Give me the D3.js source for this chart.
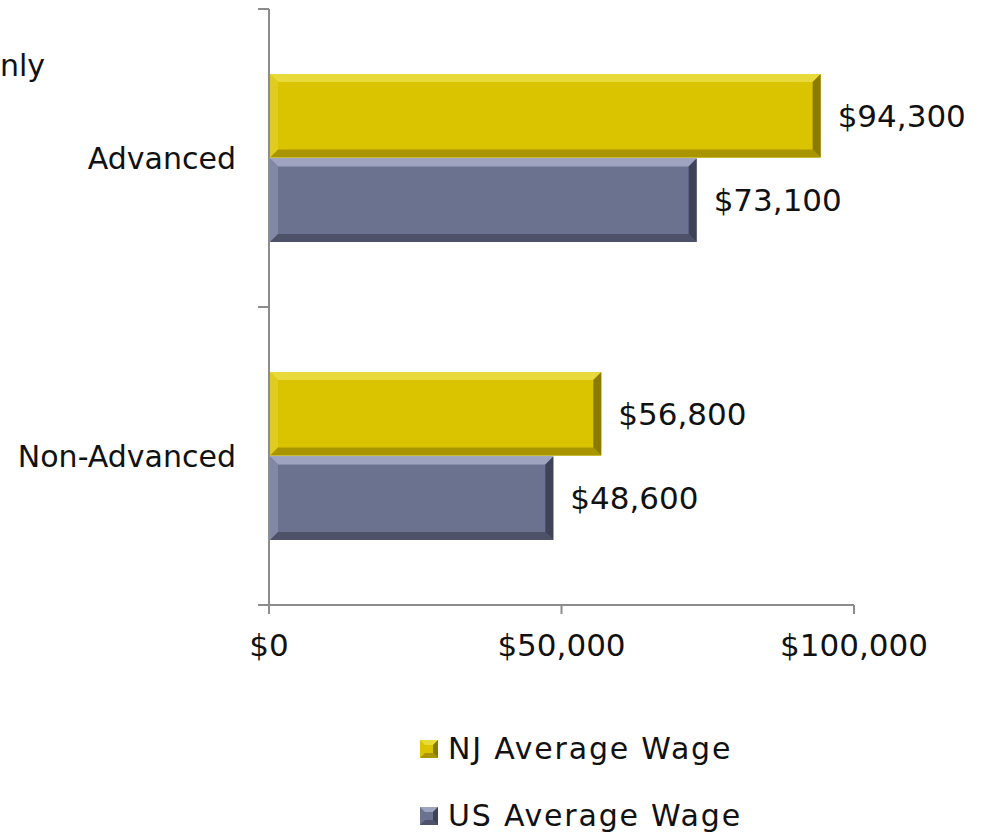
<!DOCTYPE html>
<html><head><meta charset="utf-8">
<script src="https://cdn.jsdelivr.net/npm/d3@7"></script>
<style>
body{margin:0;background:#fff;}
text{font-family:"DejaVu Sans","Noto Sans",sans-serif;fill:#111;}
</style></head>
<body>
<svg id="chart" width="988" height="835"></svg>
<script>
const categories = ["Advanced", "Non-Advanced"];
const seriesNames = ["NJ Average Wage", "US Average Wage"];
const njWage = [94300, 56800];
const usWage = [73100, 48600];
const tickValues = [0, 50000, 100000];
const tickLabels = ["$0", "$50,000", "$100,000"];

const colors = {
  nj: {main:"#dac400", top:"#e9da3c", left:"#e0cc20", bottom:"#a99500", right:"#8a7a00"},
  us: {main:"#6b7290", top:"#9ea4c0", left:"#8188a6", bottom:"#4d5269", right:"#3f4357"}
};

const svg = d3.select("#chart");
const x = d3.scaleLinear().domain([0, 100000]).range([269, 854]);
const y = d3.scaleBand().domain(categories).range([9, 605]);
const inner = d3.scaleBand().domain(["nj","us"]).range([0, y.bandwidth()]).paddingOuter(0.77).paddingInner(0.01);

const FS = 31, FC = 30;
// axes
const axisColor = "#8c8c8c";
svg.append("line").attr("x1",269).attr("x2",269).attr("y1",9).attr("y2",605).attr("stroke",axisColor).attr("stroke-width",2);
const yTicks = [y.range()[0], y(categories[1]), y.range()[1]];
yTicks.forEach(t => svg.append("line").attr("x1",258).attr("x2",269).attr("y1",t).attr("y2",t).attr("stroke",axisColor).attr("stroke-width",2));
svg.append("line").attr("x1",258).attr("x2",x(100000)).attr("y1",605).attr("y2",605).attr("stroke",axisColor).attr("stroke-width",2);
tickValues.forEach((v,i) => {
  svg.append("line").attr("x1",x(v)).attr("x2",x(v)).attr("y1",605).attr("y2",614).attr("stroke",axisColor).attr("stroke-width",2);
  svg.append("text").attr("x",x(v)).attr("y",656).attr("text-anchor","middle").attr("font-size",FS).text(tickLabels[i]);
});

// category labels
categories.forEach(c => {
  svg.append("text").attr("x",236).attr("y",y(c)+y.bandwidth()/2+11).attr("text-anchor","end").attr("font-size",FC).text(c);
});

function bevelBar(g, x0, x1, y0, h, col){
  const b = 8;
  const y1 = y0 + h;
  g.append("rect").attr("x",x0).attr("y",y0).attr("width",x1-x0).attr("height",h).attr("fill",col.main);
  g.append("polygon").attr("points",`${x0},${y0} ${x1},${y0} ${x1-b},${y0+b} ${x0+b},${y0+b}`).attr("fill",col.top);
  g.append("polygon").attr("points",`${x0},${y0} ${x0+b},${y0+b} ${x0+b},${y1-b} ${x0},${y1}`).attr("fill",col.left);
  g.append("polygon").attr("points",`${x0},${y1} ${x0+b},${y1-b} ${x1-b},${y1-b} ${x1},${y1}`).attr("fill",col.bottom);
  g.append("polygon").attr("points",`${x1},${y0} ${x1},${y1} ${x1-b},${y1-b} ${x1-b},${y0+b}`).attr("fill",col.right);
}

const fmt = v => "$" + d3.format(",")(v);
const bars = svg.append("g");
categories.forEach((c,i) => {
  [["nj", njWage[i]], ["us", usWage[i]]].forEach(([k, v]) => {
    const y0 = y(c) + inner(k);
    const h = inner.bandwidth();
    bevelBar(bars, x(0)+1, x(v), y0, h, colors[k]);
    svg.append("text").attr("x", x(v)+17).attr("y", y0 + h/2 + 11).attr("font-size",FS).text(fmt(v));
  });
});

// legend
const legend = svg.append("g");
["nj","us"].forEach((k,i) => {
  const ly = 749 + i*67;
  const col = colors[k];
  const s = 18, x0 = 420, y0 = ly - s/2, b = 5;
  legend.append("rect").attr("x",x0).attr("y",y0).attr("width",s).attr("height",s).attr("fill",col.main);
  legend.append("polygon").attr("points",`${x0},${y0} ${x0+s},${y0} ${x0+s-b},${y0+b} ${x0+b},${y0+b}`).attr("fill",col.top);
  legend.append("polygon").attr("points",`${x0},${y0+s} ${x0+b},${y0+s-b} ${x0+s-b},${y0+s-b} ${x0+s},${y0+s}`).attr("fill",col.bottom);
  legend.append("polygon").attr("points",`${x0+s},${y0} ${x0+s},${y0+s} ${x0+s-b},${y0+s-b} ${x0+s-b},${y0+b}`).attr("fill",col.right);
  legend.append("text").attr("x",448).attr("y",ly+10).attr("font-size",FC).attr("letter-spacing",1.8).text(seriesNames[i]);
});

// clipped title fragment
svg.append("text").attr("x",0).attr("y",76).attr("font-size",FC).text("nly");
</script>
</body></html>
